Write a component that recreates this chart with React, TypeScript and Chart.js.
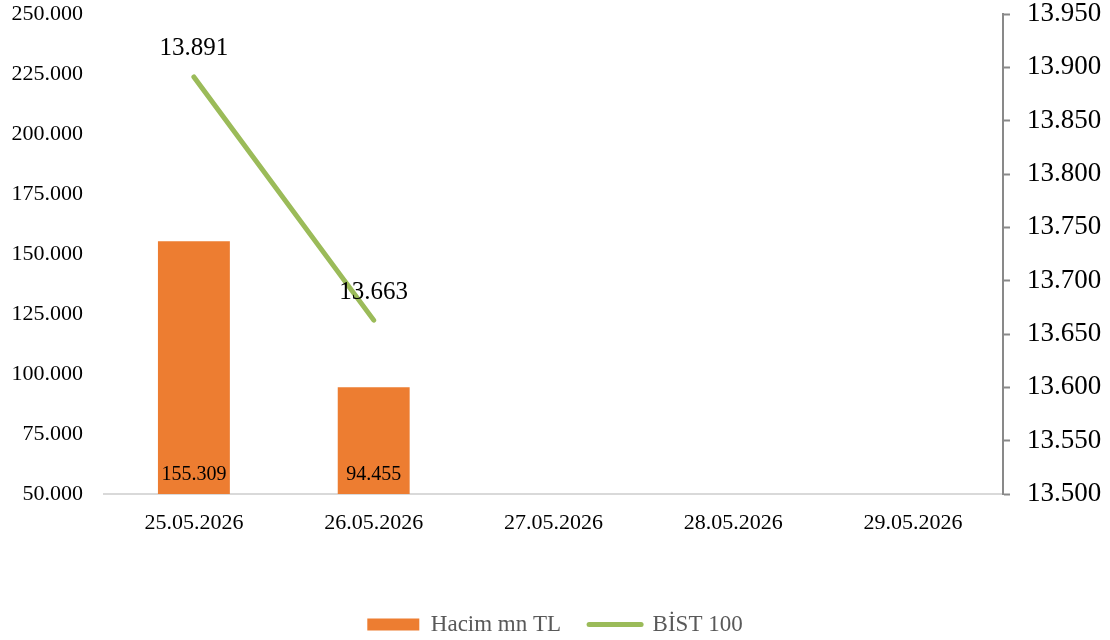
import React, { useEffect, useRef } from "react";
import { Chart, registerables } from "chart.js";

Chart.register(...registerables);

const categories = ["25.05.2026", "26.05.2026", "27.05.2026", "28.05.2026", "29.05.2026"];
const volumeLabel = "Hacim mn TL";
const indexLabel = "BİST 100";
const volume: (number | null)[] = [155309, 94455, null, null, null];
const bist: (number | null)[] = [13891, 13663, null, null, null];
const leftMin = 50000;
const leftMax = 250000;
const leftStep = 25000;
const rightMin = 13500;
const rightMax = 13950;
const rightStep = 50;

const FONT = "'Liberation Serif', 'Times New Roman', serif";
const ORANGE = "#ED7D31";
const GREEN = "#9BBB59";

const fmt = (n: number) =>
  Math.round(n).toString().replace(/\B(?=(\d{3})+(?!\d))/g, ".");

const valueLabels = {
  id: "valueLabels",
  afterDatasetsDraw(chart: any) {
    const ctx = chart.ctx;
    const bottom = chart.chartArea.bottom;
    ctx.save();
    ctx.textAlign = "center";
    ctx.textBaseline = "middle";
    ctx.fillStyle = "#000000";
    chart.data.datasets.forEach((ds: any, i: number) => {
      const meta = chart.getDatasetMeta(i);
      meta.data.forEach((el: any, j: number) => {
        const v = ds.data[j];
        if (v == null) return;
        if (ds.type === "bar") {
          ctx.font = `20px ${FONT}`;
          ctx.fillText(fmt(v), el.x, Math.min(el.base, bottom) - 19);
        } else {
          ctx.font = `25px ${FONT}`;
          ctx.fillText(fmt(v), el.x, el.y - 28);
        }
      });
    });
    ctx.restore();
  },
};

const noVerticalPad = (s: any, w: number) => {
  s.width = w;
  s.paddingTop = 0;
  s.paddingBottom = 0;
};

export default function App() {
  const ref = useRef<HTMLCanvasElement | null>(null);

  useEffect(() => {
    if (!ref.current) return;
    const chart = new Chart(ref.current, {
      type: "bar",
      data: {
        labels: categories,
        datasets: [
          {
            type: "bar",
            label: volumeLabel,
            data: volume,
            backgroundColor: ORANGE,
            borderWidth: 0,
            barPercentage: 0.4,
            categoryPercentage: 1,
            yAxisID: "y",
          } as any,
          {
            type: "line",
            label: indexLabel,
            data: bist,
            borderColor: GREEN,
            backgroundColor: GREEN,
            borderWidth: 5,
            borderCapStyle: "round",
            pointRadius: 0,
            pointHoverRadius: 0,
            pointBorderWidth: 5,
            yAxisID: "y1",
          } as any,
        ],
      },
      options: {
        responsive: false,
        animation: false,
        events: [],
        layout: { padding: { top: 14, left: 0, right: 0, bottom: -6 } },
        plugins: {
          tooltip: { enabled: false },
          legend: {
            position: "bottom",
            labels: {
              font: { family: FONT, size: 23 },
              color: "#595959",
              usePointStyle: true,
              pointStyleWidth: 52,
              boxHeight: 12,
              padding: 28,
              generateLabels: () => [
                {
                  text: volumeLabel,
                  fillStyle: ORANGE,
                  strokeStyle: ORANGE,
                  lineWidth: 0,
                  pointStyle: "rect",
                  fontColor: "#595959",
                  datasetIndex: 0,
                  hidden: false,
                },
                {
                  text: indexLabel,
                  fillStyle: GREEN,
                  strokeStyle: GREEN,
                  lineWidth: 5,
                  lineCap: "round",
                  pointStyle: "line",
                  fontColor: "#595959",
                  datasetIndex: 1,
                  hidden: false,
                },
              ],
            },
          },
        },
        scales: {
          x: {
            offset: true,
            grid: { display: false, drawTicks: false },
            border: { display: true, color: "#D9D9D9", width: 2 },
            ticks: {
              padding: 16,
              color: "#000000",
              font: { family: FONT, size: 22 },
              maxRotation: 0,
              autoSkip: false,
            },
            afterFit: (s: any) => {
              s.height = 91;
            },
          },
          y: {
            position: "left",
            min: leftMin,
            max: leftMax,
            grid: { display: false, drawTicks: false },
            border: { display: false },
            ticks: {
              stepSize: leftStep,
              padding: 21,
              color: "#000000",
              font: { family: FONT, size: 22, lineHeight: 1 },
              callback: (v: any) => fmt(Number(v)),
            },
            afterFit: (s: any) => noVerticalPad(s, 104),
          },
          y1: {
            position: "right",
            min: rightMin,
            max: rightMax,
            grid: {
              display: true,
              drawOnChartArea: false,
              drawTicks: true,
              tickLength: 7,
              tickWidth: 2,
              color: "#898989",
            },
            border: { display: true, color: "#898989", width: 2 },
            ticks: {
              stepSize: rightStep,
              padding: 17,
              color: "#000000",
              font: { family: FONT, size: 27, lineHeight: 1 },
              callback: (v: any) => fmt(Number(v)),
            },
            afterFit: (s: any) => noVerticalPad(s, 107),
          },
        },
      },
      plugins: [valueLabels],
    });
    return () => chart.destroy();
  }, []);

  return (
    <div style={{ position: "absolute", left: 0, top: 0, width: 1110, height: 640, background: "#ffffff" }}>
      <canvas ref={ref} width={1110} height={640} style={{ display: "block" }} />
    </div>
  );
}
